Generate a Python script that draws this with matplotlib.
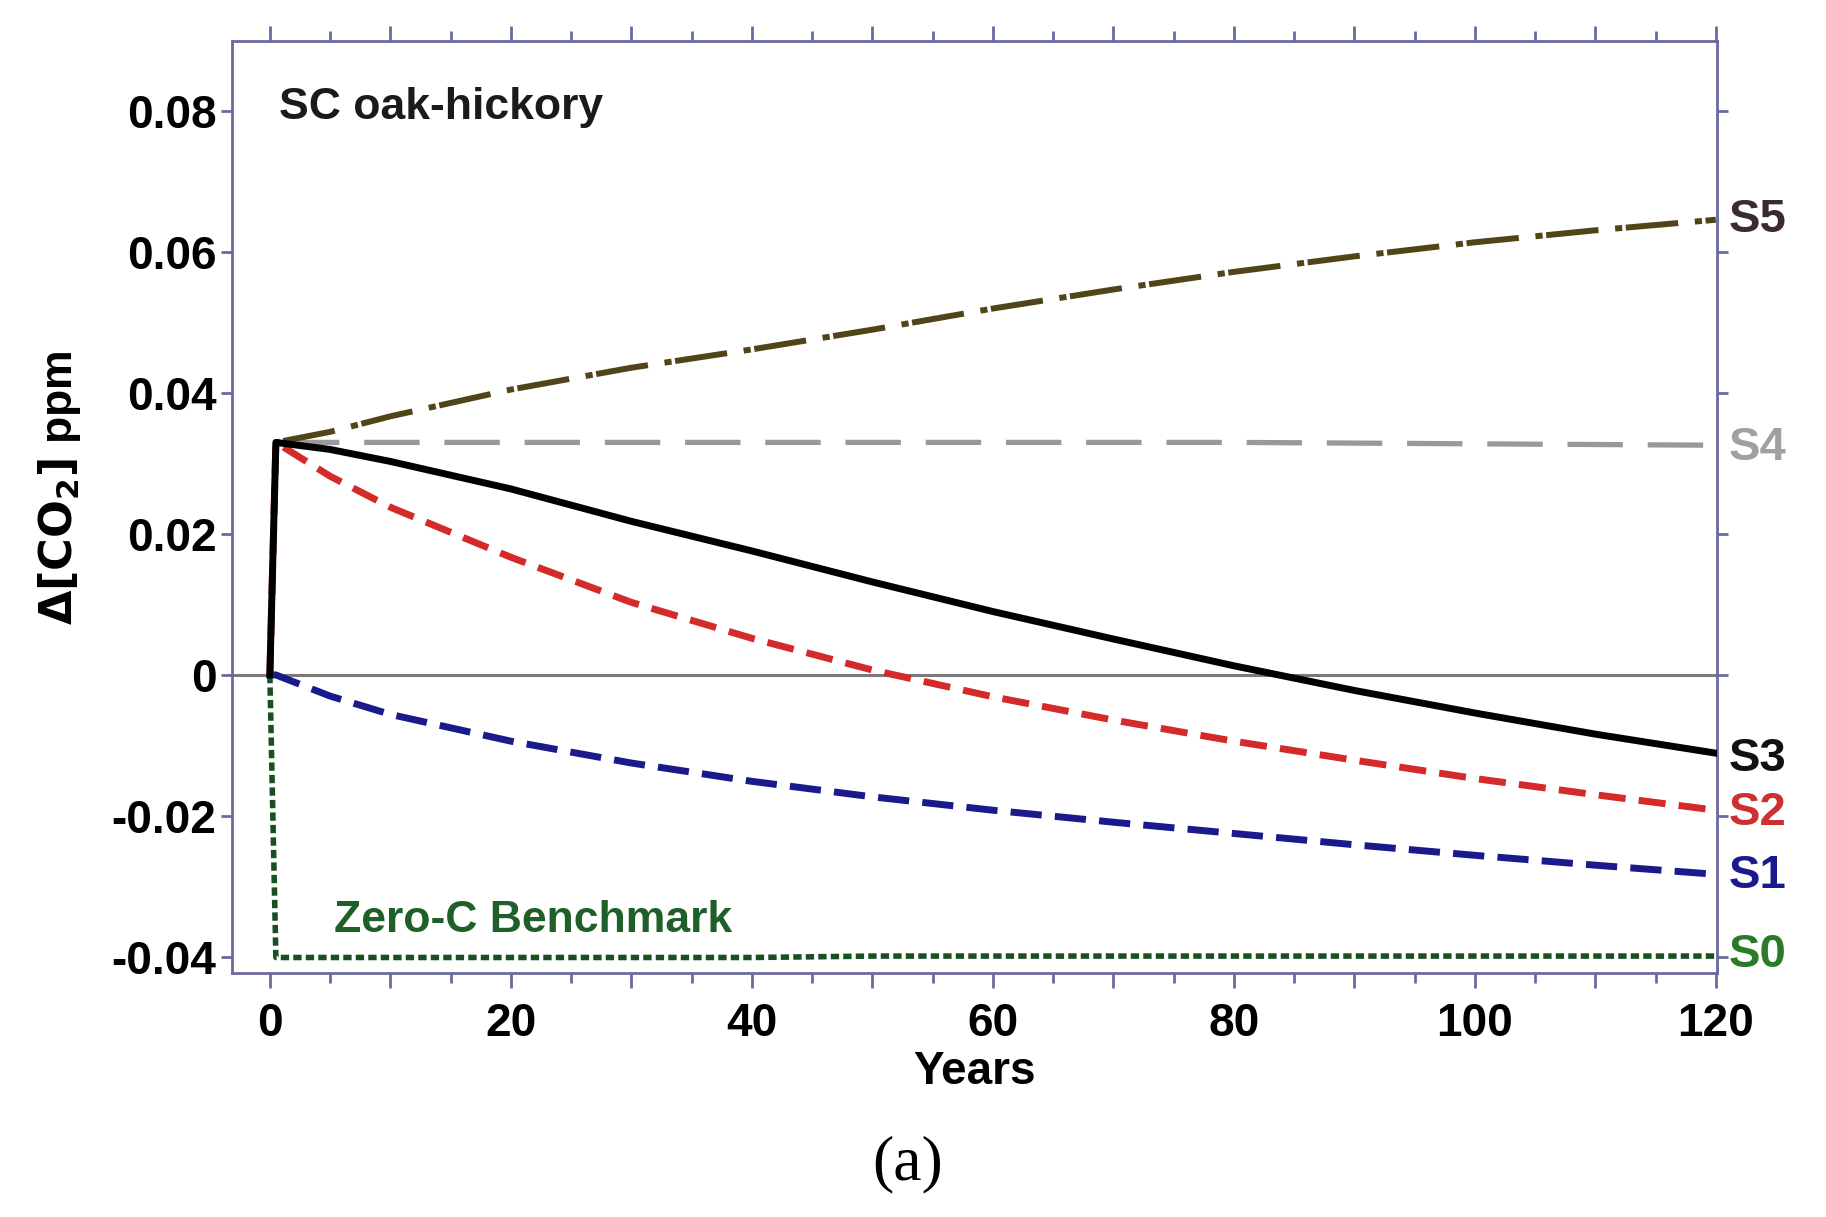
import matplotlib
matplotlib.use('Agg')
import matplotlib.pyplot as plt
from matplotlib.ticker import MultipleLocator

plt.rcParams['font.family'] = ['Liberation Sans', 'DejaVu Sans']

years = [0, 0.5, 5, 10, 20, 30, 40, 50, 60, 70, 80, 90, 100, 110, 120]

s0 = [0, -0.0401, -0.0401, -0.0401, -0.0401, -0.0401, -0.0401, -0.0399, -0.0399,
      -0.0399, -0.0399, -0.0399, -0.0399, -0.0399, -0.0399]
s1 = [0, 0, -0.0030, -0.0056, -0.0094, -0.0125, -0.0151, -0.0173, -0.0192,
      -0.0209, -0.0225, -0.0241, -0.0256, -0.0270, -0.0283]
s2 = [0, 0.033, 0.0282, 0.0238, 0.0167, 0.0103, 0.0052, 0.0007, -0.0031,
      -0.0064, -0.0094, -0.0121, -0.0147, -0.0170, -0.0192]
s3 = [0, 0.033, 0.0320, 0.0303, 0.0264, 0.0218, 0.0176, 0.0132, 0.0090,
      0.0051, 0.0013, -0.0022, -0.0054, -0.0084, -0.0111]
s4 = [0, 0.033, 0.033, 0.033, 0.033, 0.033, 0.033, 0.033, 0.033,
      0.033, 0.033, 0.0329, 0.0328, 0.0327, 0.0326]
s5 = [0, 0.033, 0.0345, 0.0367, 0.0405, 0.0436, 0.0462, 0.0490, 0.0520,
      0.0547, 0.0572, 0.0594, 0.0614, 0.0631, 0.0646]

names = ['S0', 'S1', 'S2', 'S3', 'S4', 'S5']
label_colors = ['#2a7a2a', '#1a1a8c', '#cc3030', '#111111', '#a0a0a0', '#3b2b2b']

spine_col = '#6a6aa0'

fig = plt.figure(figsize=(18.26, 12.17), dpi=100)
ax = fig.add_axes([0.127, 0.2005, 0.8133, 0.766])

ax.axhline(0, color='#7a7a7a', lw=2.2, zorder=1)

ax.plot(years, s0, color='#1a4f22', lw=4.0, dashes=(1.5, 0.75), zorder=3)
ax.plot(years, s1, color='#1a1a8c', lw=5.0, dashes=(4.5, 1.9), zorder=3)
ax.plot(years, s2, color='#d42a2a', lw=5.0, dashes=(3.9, 1.9), zorder=3)
ax.plot(years, s4, color='#999999', lw=3.8, dashes=(10.5, 4.7), zorder=2)
ax.plot(years, s5, color='#504418', lw=4.3, dashes=(8.8, 2.8, 1.2, 0.6), zorder=3)
ax.plot(years, s3, color='black', lw=5.0, zorder=4)

series = [s0, s1, s2, s3, s4, s5]
offs = [0.0002, -0.0002, -0.0004, -0.0008, -0.0004, 0]
for nm, s, c, o in zip(names, series, label_colors, offs):
    ax.text(121.1, s[-1] + o, nm, color=c, fontsize=34, fontweight='bold',
            ha='left', va='center', clip_on=False)

ax.text(0.8, 0.0806, 'SC oak-hickory', fontsize=32, fontweight='bold',
        color='#1a1a1a', ha='left', va='center')
ax.text(5.3, -0.0349, 'Zero-C Benchmark', fontsize=32, fontweight='bold',
        color='#1f5f2a', ha='left', va='center')

ax.set_xlim(-3.15, 120.1)
ax.set_ylim(-0.0423, 0.09)

xt = list(range(0, 121, 10))
ax.set_xticks(xt)
ax.set_xticklabels([str(v) if v % 20 == 0 else '' for v in xt])
ax.xaxis.set_minor_locator(MultipleLocator(5))
ax.set_yticks([-0.04, -0.02, 0, 0.02, 0.04, 0.06, 0.08])
ax.set_yticklabels(['-0.04', '-0.02', '0', '0.02', '0.04', '0.06', '0.08'])

ax.tick_params(axis='both', which='major', direction='out', length=11, width=2,
               color=spine_col, labelsize=33)
ax.tick_params(axis='y', which='major', length=8, pad=3, right=True)
ax.tick_params(axis='x', which='major', pad=10, top=True)
ax.tick_params(axis='x', which='minor', direction='out', length=7, width=2,
               color=spine_col, top=True)
for lab in ax.get_xticklabels() + ax.get_yticklabels():
    lab.set_fontweight('bold')

for sp in ax.spines.values():
    sp.set_color(spine_col)
    sp.set_linewidth(2)

ax.set_xlabel('Years', fontsize=33, fontweight='bold', labelpad=3)
ax.set_ylabel(r'$\mathbf{\Delta[CO_2]}$ ppm', fontsize=32, fontweight='bold')
ax.yaxis.set_label_coords(-0.1, 0.521)

fig.text(0.497, 0.043, '(a)', fontsize=46, family=['Liberation Serif', 'DejaVu Serif'],
         ha='center', va='center')

fig.savefig('out.png', dpi=100, facecolor='white')
